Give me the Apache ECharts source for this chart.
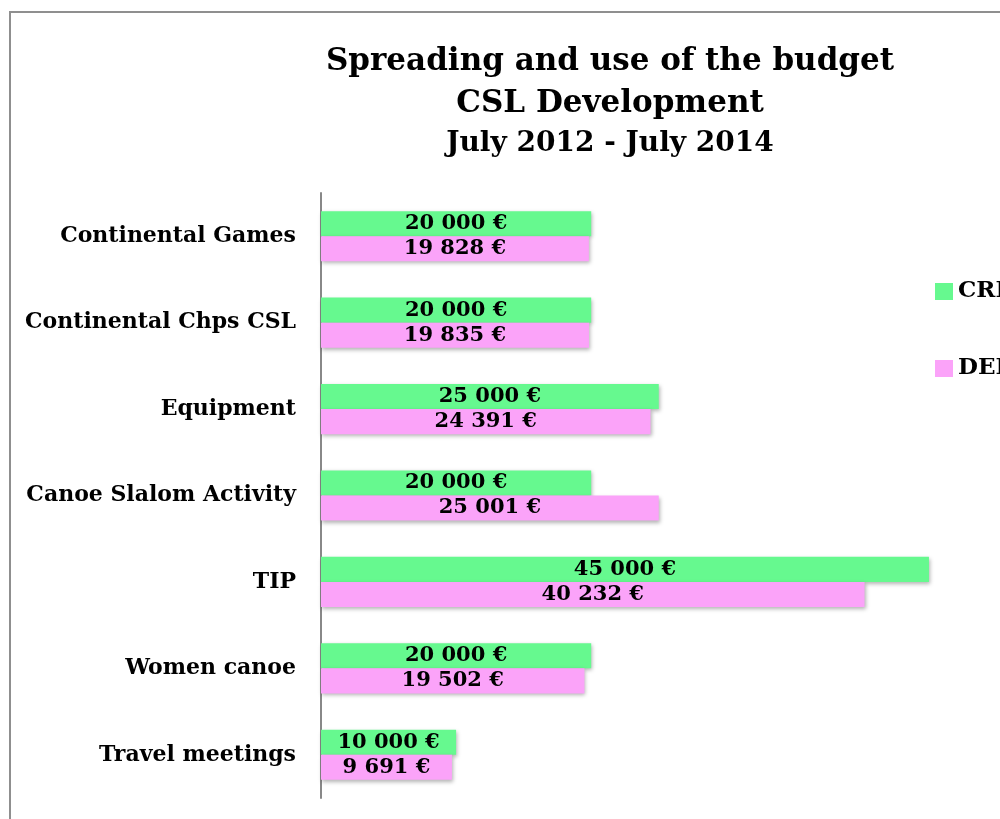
<!DOCTYPE html>
<html><head><meta charset="utf-8">
<script src="https://cdn.jsdelivr.net/npm/echarts@6/dist/echarts.min.js"></script>
<style>html,body{margin:0;padding:0;background:#fff}#c{width:1000px;height:819px}</style>
</head><body><div id="c"></div>
<script>
const categories = ['Continental Games','Continental Chps CSL','Equipment','Canoe Slalom Activity','TIP','Women canoe','Travel meetings'];
const creditValues = [20000,20000,25000,20000,45000,20000,10000];
const debitValues = [19828,19835,24391,25001,40232,19502,9691];
const seriesNames = ['CREDIT','DEBIT'];
const titleLines = ['Spreading and use of the budget','CSL Development','July 2012 - July 2014'];

const FONT = 'DejaVu Serif';
function fmt(v){ return String(v).replace(/\B(?=(\d{3})+(?!\d))/g,' ') + ' €'; }
const chart = echarts.init(document.getElementById('c'));
const labelCfg = {show:true, position:'inside', color:'#000', fontFamily:FONT, fontWeight:'bold', fontSize:21, formatter:p=>fmt(p.value)};
chart.setOption({
  animation:false,
  graphic:[{type:'rect', shape:{x:10,y:12,width:1100,height:900}, style:{fill:'none', stroke:'#8f8f8f', lineWidth:2}, z:-1}],
  title:[
    {text:titleLines[0]+'\n'+titleLines[1], left:605, textAlign:'center', top:36, textStyle:{fontFamily:FONT, fontWeight:'bold', fontSize:31, color:'#000', lineHeight:42}},
    {text:titleLines[2], left:605, textAlign:'center', top:125, textStyle:{fontFamily:FONT, fontWeight:'bold', fontSize:28, color:'#000'}}
  ],
  legend:{orient:'vertical', left:935, top:280, padding:0, itemGap:54, itemWidth:18, itemHeight:17, icon:'rect', textStyle:{fontFamily:FONT, fontWeight:'bold', fontSize:23, color:'#000', overflow:'none'}, data:seriesNames},
  grid:{left:321, right:3.5, top:193, bottom:21, containLabel:false},
  xAxis:{type:'value', min:0, max:50000, show:false},
  yAxis:{type:'category', data:categories, inverse:true,
    axisLine:{lineStyle:{color:'#888', width:2}}, axisTick:{show:false},
    axisLabel:{margin:25, fontFamily:FONT, fontWeight:'bold', fontSize:22, color:'#000', padding:[6,0,0,0]}},
  series:[
    {name:seriesNames[0], type:'bar', data:creditValues, barGap:'0%', barCategoryGap:'42%', itemStyle:{color:'#66f98f', shadowBlur:4, shadowColor:'rgba(0,0,0,0.3)', shadowOffsetY:2, shadowOffsetX:1}, label:labelCfg},
    {name:seriesNames[1], type:'bar', data:debitValues, itemStyle:{color:'#fba3f9', shadowBlur:4, shadowColor:'rgba(0,0,0,0.3)', shadowOffsetY:2, shadowOffsetX:1}, label:labelCfg}
  ]
});
</script></body></html>
